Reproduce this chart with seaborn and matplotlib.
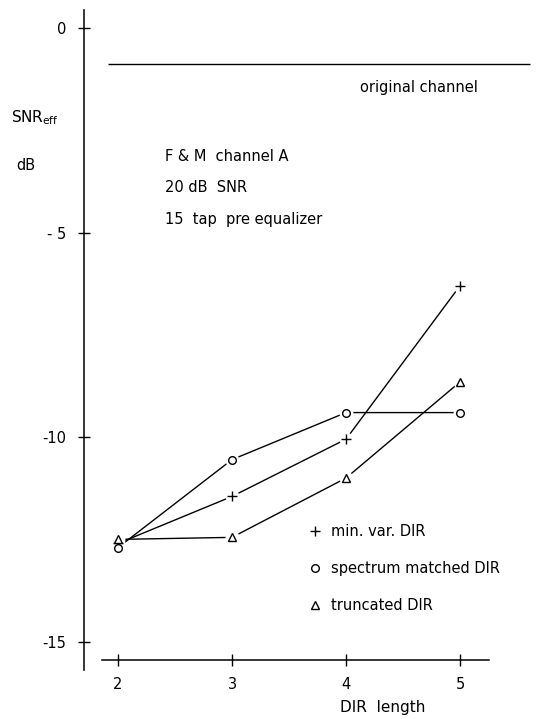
import numpy as np
import pandas as pd
import matplotlib
matplotlib.use("Agg")
import matplotlib.pyplot as plt
from matplotlib.lines import Line2D
import seaborn as sns

# values
dir_length = [2, 3, 4, 5]
min_var = [-12.6, -11.45, -10.05, -6.3]
spectrum_matched = [-12.7, -10.55, -9.4, -9.4]
truncated = [-12.5, -12.45, -11.0, -8.65]
original_channel = -0.87

series_names = ["min. var. DIR", "spectrum matched DIR", "truncated DIR"]
series_markers = ["+", "o", "^"]
y_ticks = [0, -5, -10, -15]
y_tick_labels = ["0", "- 5", "-10", "-15"]
x_ticks = [2, 3, 4, 5]

df = pd.DataFrame({
    "length": dir_length * 3,
    "snr": min_var + spectrum_matched + truncated,
    "method": np.repeat(series_names, len(dir_length)),
})

sns.set_style("white")
plt.rcParams["font.family"] = ["DejaVu Sans"]
plt.rcParams["text.color"] = "black"
plt.rcParams["xtick.color"] = "black"
plt.rcParams["ytick.color"] = "black"
fs = 10.5

fig = plt.figure(figsize=(5.55, 7.19), dpi=100)
ax = fig.add_axes([0, 0, 1, 1])
ax.set_xlim(0.965, 5.833)
ax.set_ylim(-16.89, 0.685)
ax.patch.set_alpha(0)

# lines
sns.lineplot(data=df, x="length", y="snr", units="method", estimator=None,
             color="black", lw=1.0, ax=ax, legend=False)

# white halos so lines stop short of the markers, then the markers
for name, mk in zip(series_names, series_markers):
    sub = df[df["method"] == name]
    ax.plot(sub["length"], sub["snr"], ls="none", marker="o", ms=9,
            mfc="white", mec="white", zorder=3)
    ax.plot(sub["length"], sub["snr"], ls="none", marker=mk,
            ms=7 if mk == "+" else 5.5, mfc="white", mec="black",
            mew=1.0, zorder=4)

# original channel reference line
ax.hlines(original_channel, 1.91, 5.61, color="black", lw=1.0)
ax.text(4.12, -1.45, "original channel", fontsize=fs, va="center")

# spines placed like the hand-drawn axes
for s in ["top", "right"]:
    ax.spines[s].set_visible(False)
ax.spines["left"].set_position(("data", 1.70))
ax.spines["left"].set_bounds(-15.7, 0.44)
ax.spines["bottom"].set_position(("data", -15.45))
ax.spines["bottom"].set_bounds(1.86, 5.25)
for s in ["left", "bottom"]:
    ax.spines[s].set_linewidth(1.1)
    ax.spines[s].set_color("black")

ax.set_yticks(y_ticks)
ax.set_yticklabels(y_tick_labels, fontsize=fs)
ax.set_xticks(x_ticks)
ax.set_xticklabels([str(v) for v in x_ticks], fontsize=fs)
ax.tick_params(axis="y", left=True, direction="inout", length=9, width=1.0, pad=8)
ax.tick_params(axis="x", bottom=True, direction="inout", length=9, width=1.0, pad=8)
ax.set_xlabel("")
ax.set_ylabel("")

# axis labels
ax.text(3.95, -16.6, "DIR  length", fontsize=fs + 0.5, va="center", ha="left")
fig.text(0.02, 1 - 118 / 719, r"SNR$_{\mathregular{eff}}$", fontsize=fs + 0.5, va="center")
fig.text(0.03, 1 - 166 / 719, "dB", fontsize=fs, va="center")

# annotation block
ax.text(2.41, -3.15, "F & M  channel A", fontsize=fs, va="center")
ax.text(2.41, -3.91, "20 dB  SNR", fontsize=fs, va="center")
ax.text(2.41, -4.69, "15  tap  pre equalizer", fontsize=fs, va="center")

# legend with markers only
handles = [Line2D([], [], ls="none", marker=mk, ms=7 if mk == "+" else 5.5,
                  mfc="white", mec="black", mew=1.0) for mk in series_markers]
leg = ax.legend(handles, series_names, loc="upper left", frameon=False,
                bbox_to_anchor=(300 / 555, 1 - 517 / 719), borderpad=0,
                handlelength=1.0, handletextpad=0.6, labelspacing=1.5,
                prop={"size": fs})
for t in leg.get_texts():
    t.set_color("black")

fig.savefig("out.png", dpi=100)
